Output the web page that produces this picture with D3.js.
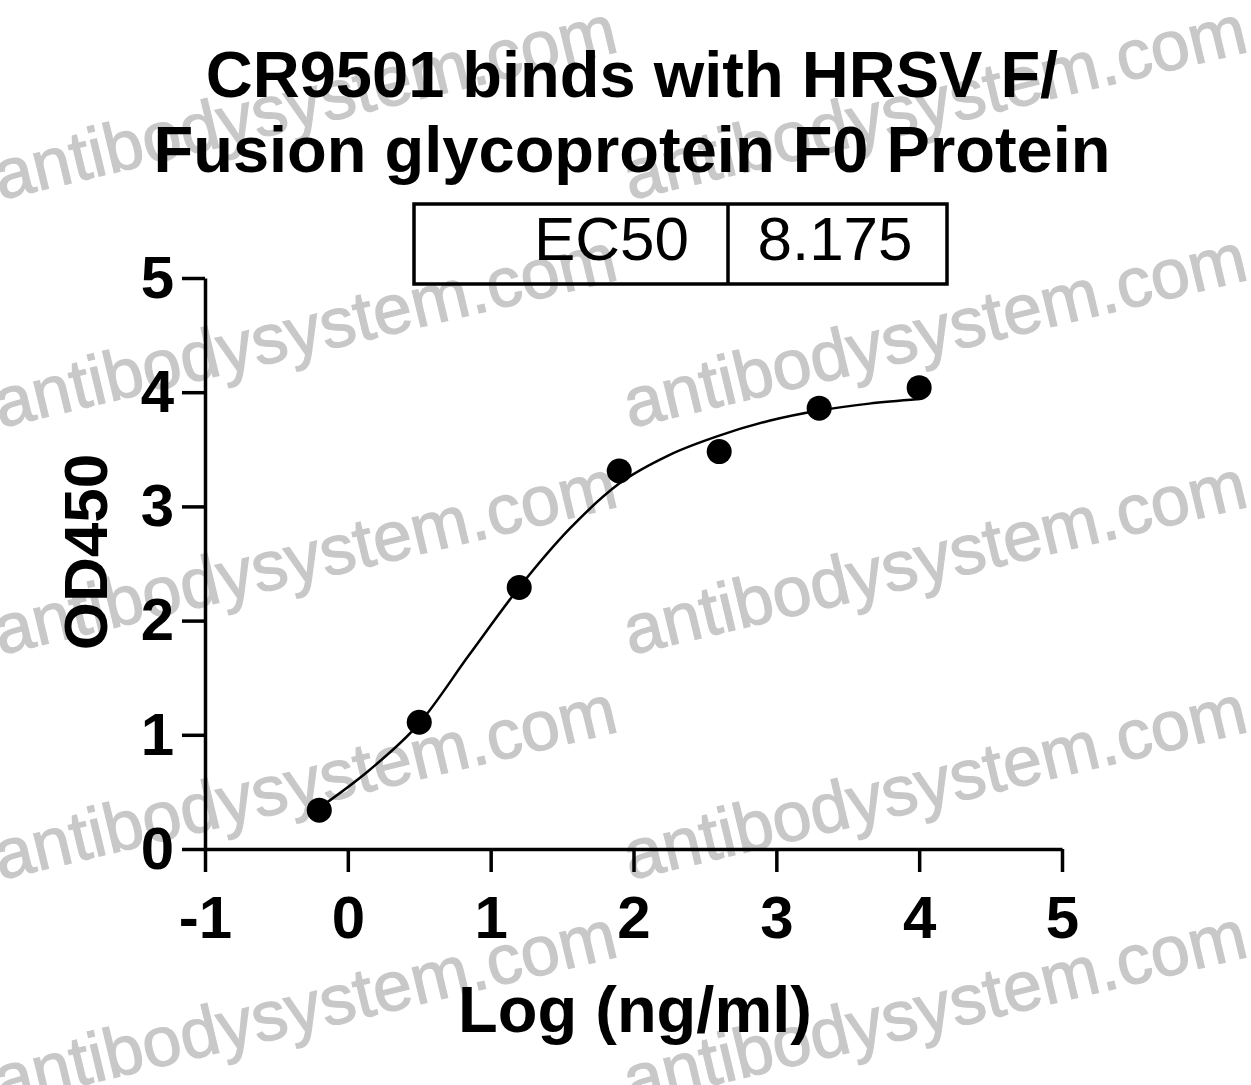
<!DOCTYPE html>
<html>
<head>
<meta charset="utf-8">
<script src="https://cdn.jsdelivr.net/npm/d3@7"></script>
<style>
  body { margin: 0; background: #fff; }
  text { font-family: "Liberation Sans", Arial, sans-serif; }
</style>
</head>
<body>
<svg id="svg"></svg>
<script>
  // measured points
  const logConc = [-0.2, 0.5, 1.2, 1.9, 2.6, 3.3, 4.0];
  const od450 = [0.34, 1.11, 2.29, 3.31, 3.48, 3.86, 4.04];

  // fitted curve
  const fitX = [-0.2, 0.15, 0.5, 0.85, 1.2, 1.55, 1.9, 2.25, 2.6, 2.95, 3.3, 3.65, 4.0];
  const fitY = [0.36, 0.69, 1.10, 1.70, 2.29, 2.80, 3.20, 3.45, 3.62, 3.75, 3.84, 3.90, 3.94];

  const xTicks = [-1, 0, 1, 2, 3, 4, 5];
  const yTicks = [0, 1, 2, 3, 4, 5];

  const titleLines = ["CR9501 binds with HRSV F/", "Fusion glycoprotein F0 Protein"];
  const ec50Label = "EC50";
  const ec50Value = "8.175";
  const watermark = "antibodysystem.com";

  const W = 1251, H = 1085;
  const svg = d3.select("#svg").attr("width", W).attr("height", H);

  // watermark grid, drawn first so the chart sits on top
  const wm = svg.append("g");
  [0, 630].forEach(function(x0) {
    [200, 428, 655, 880, 1105].forEach(function(y0) {
      wm.append("text")
        .attr("transform", `translate(${x0}, ${y0}) rotate(-13.5)`)
        .attr("font-size", 70)
        .attr("fill", "#c8c8c8")
        .attr("stroke", "#c8c8c8")
        .attr("stroke-width", 1.2)
        .text(watermark);
    });
  });

  const xScale = d3.scaleLinear().domain([-1, 5]).range([205, 1062]);
  const yScale = d3.scaleLinear().domain([0, 5]).range([849, 278]);

  // title
  svg.selectAll(".title")
    .data(titleLines)
    .enter().append("text")
    .attr("class", "title")
    .attr("x", 632)
    .attr("y", function(d, i) { return 97 + i * 75; })
    .attr("text-anchor", "middle")
    .attr("font-size", 65)
    .attr("font-weight", "bold")
    .text(function(d) { return d; });

  // EC50 box
  const box = svg.append("g");
  box.append("rect")
    .attr("x", 414).attr("y", 204).attr("width", 533).attr("height", 80)
    .attr("fill", "none").attr("stroke", "#000").attr("stroke-width", 3.5);
  box.append("line")
    .attr("x1", 728).attr("x2", 728).attr("y1", 204).attr("y2", 284)
    .attr("stroke", "#000").attr("stroke-width", 3.5);
  box.append("text")
    .attr("x", 689).attr("y", 260)
    .attr("text-anchor", "end").attr("font-size", 62)
    .text(ec50Label);
  box.append("text")
    .attr("x", 835).attr("y", 260)
    .attr("text-anchor", "middle").attr("font-size", 62)
    .text(ec50Value);

  // axes
  const xAxis = svg.append("g")
    .attr("transform", `translate(0, ${yScale(0)})`)
    .call(d3.axisBottom(xScale).tickValues(xTicks).tickFormat(function(d) { return String(d); })
      .tickSize(23).tickPadding(23).tickSizeOuter(0));

  const yAxis = svg.append("g")
    .attr("transform", `translate(${xScale(-1)}, 0)`)
    .call(d3.axisLeft(yScale).tickValues(yTicks).tickFormat(function(d) { return String(d); })
      .tickSize(23).tickPadding(8).tickSizeOuter(0));

  [xAxis, yAxis].forEach(function(a) {
    a.select(".domain").attr("stroke", "#000").attr("stroke-width", 3.5);
    a.selectAll(".tick line").attr("stroke", "#000").attr("stroke-width", 3.5);
    a.selectAll(".tick text")
      .attr("fill", "#000")
      .attr("font-family", "Liberation Sans, Arial, sans-serif")
      .attr("font-weight", "bold")
      .attr("font-size", 60);
  });

  // axis titles
  svg.append("text")
    .attr("transform", `translate(107, 552) rotate(-90)`)
    .attr("text-anchor", "middle")
    .attr("font-size", 62)
    .attr("font-weight", "bold")
    .text("OD450");

  svg.append("text")
    .attr("x", 635).attr("y", 1032)
    .attr("text-anchor", "middle")
    .attr("font-size", 65)
    .attr("font-weight", "bold")
    .text("Log (ng/ml)");

  // fit line
  const fit = fitX.map(function(x, i) { return { x: x, y: fitY[i] }; });
  svg.append("path")
    .datum(fit)
    .attr("fill", "none")
    .attr("stroke", "#000")
    .attr("stroke-width", 2.5)
    .attr("d", d3.line()
      .x(function(d) { return xScale(d.x); })
      .y(function(d) { return yScale(d.y); })
      .curve(d3.curveMonotoneX));

  // points
  const pts = logConc.map(function(x, i) { return { x: x, y: od450[i] }; });
  svg.selectAll(".dot")
    .data(pts)
    .enter().append("circle")
    .attr("class", "dot")
    .attr("cx", function(d) { return xScale(d.x); })
    .attr("cy", function(d) { return yScale(d.y); })
    .attr("r", 12.5)
    .attr("fill", "#000");
</script>
</body>
</html>
